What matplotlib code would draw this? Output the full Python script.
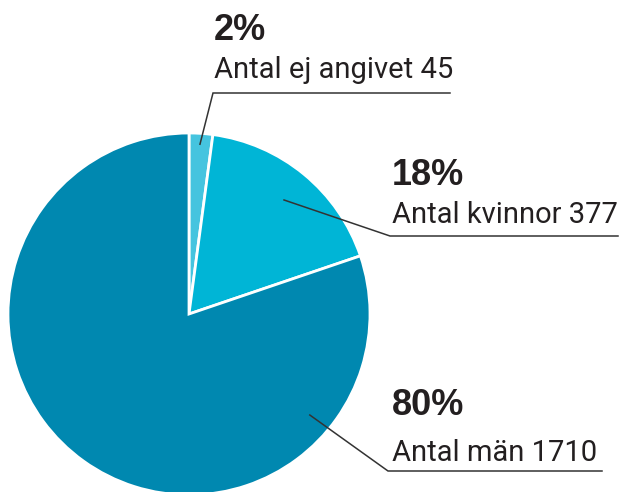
import matplotlib
matplotlib.use("Agg")
import matplotlib.pyplot as plt
import numpy as np

# ========== Data ==========
labels = ["Antal ej angivet", "Antal kvinnor", "Antal män"]
counts = [45, 377, 1710]
percents = ["2%", "18%", "80%"]
colors = ["#45c4df", "#00b5d6", "#0088b0"]

W, H = 621, 492
TEXT = "#231f20"
LINE = "#333333"

fig = plt.figure(figsize=(W / 100, H / 100), dpi=100)
ax = fig.add_axes([0, 0, 1, 1])

cx, cy, r = 189, H - 314, 181
wedges, _ = ax.pie(counts, colors=colors, startangle=90, counterclock=False,
                   center=(cx, cy), radius=r,
                   wedgeprops=dict(edgecolor="white", linewidth=2))
ax.set_xlim(0, W)
ax.set_ylim(0, H)
ax.set_aspect("equal")
ax.axis("off")

# label layout: (anchor angle deg, anchor radius frac, elbow x, elbow y, line end x, text x, pct baseline, label baseline)
layout = [
    (86.3, 0.94, 213, 93, 450, 214, 40, 78),
    (50.2, 0.82, 390, 236, 618, 392, 185, 223),
    (-39.9, 0.87, 388, 471, 602, 392, 415, 461),
]

for lab, n, pct, (ang, fr, ex, ey, lx, tx, pb, lb) in zip(labels, counts, percents, layout):
    ax0 = cx + fr * r * np.cos(np.radians(ang))
    ay0 = cy + fr * r * np.sin(np.radians(ang))
    ax.plot([ax0, ex, lx], [ay0, H - ey, H - ey], color=LINE, lw=1.1,
            solid_joinstyle="miter")
    ax.text(tx, H - pb, pct, fontsize=26, fontweight="bold", color=TEXT,
            family="Liberation Sans", va="baseline", ha="left")
    ax.text(tx, H - lb, f"{lab} {n}", fontsize=21, fontweight="normal", color=TEXT,
            family=["Roboto", "DejaVu Sans"], va="baseline", ha="left")

fig.savefig("out.png", dpi=100)
